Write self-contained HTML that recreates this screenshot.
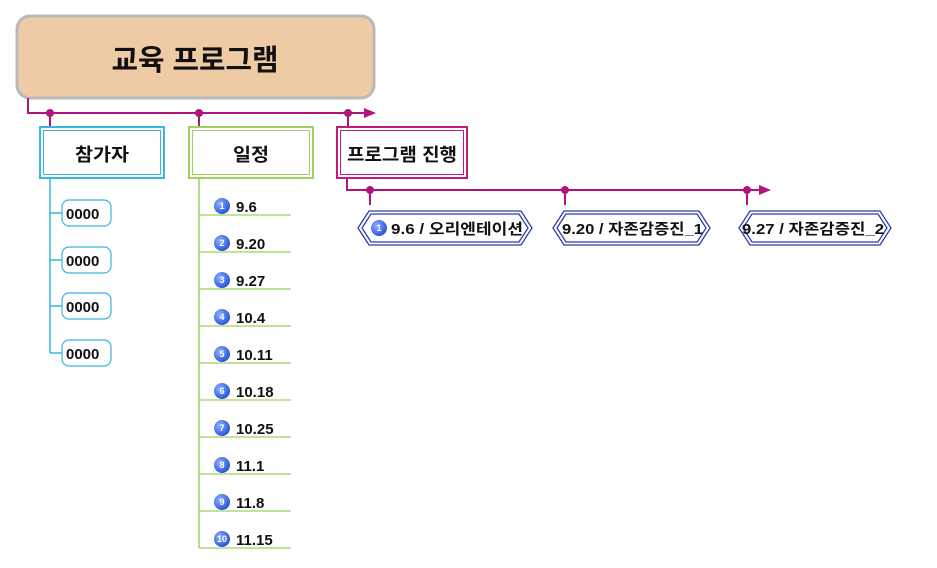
<!DOCTYPE html>
<html><head><meta charset="utf-8"><style>
body{margin:0;background:#fff;width:937px;height:563px;overflow:hidden}
svg text{font-family:"Liberation Sans","Noto Sans CJK KR",sans-serif;font-weight:bold;fill:#111}
</style></head><body>
<svg width="937" height="563" xmlns="http://www.w3.org/2000/svg">
<defs><radialGradient id="g" cx="35%" cy="35%" r="70%"><stop offset="0" stop-color="#8fb0ff"/><stop offset="1" stop-color="#2450d8"/></radialGradient></defs>
<rect x="17" y="16" width="357" height="82" rx="13" fill="#eecaa5" stroke="#b9b9b9" stroke-width="3"/>
<text x="195" y="70" font-size="29" text-anchor="middle" textLength="167" lengthAdjust="spacingAndGlyphs">교육 프로그램</text>
<g stroke="#b0157c" stroke-width="2" fill="none">
<path d="M28 98V113H368"/><path d="M50 113V127M199 113V127M348 113V127"/>
<path d="M347 178V190H763"/><path d="M370 190V205M565 190V205M747 190V205"/>
</g>
<g fill="#b0157c"><path d="M364 108L376 113L364 118Z"/><path d="M759 185L771 190L759 195Z"/>
<circle cx="50" cy="113" r="4"/><circle cx="199" cy="113" r="4"/><circle cx="348" cy="113" r="4"/>
<circle cx="370" cy="190" r="4"/><circle cx="565" cy="190" r="4"/><circle cx="747" cy="190" r="4"/></g>
<rect x="40" y="127" width="124" height="51" fill="#fff" stroke="#3bb5e0" stroke-width="2"/>
<rect x="43.5" y="130.5" width="117" height="44" fill="none" stroke="#3bb5e0" stroke-width="1"/>
<text x="102" y="161" font-size="18" text-anchor="middle" textLength="54" lengthAdjust="spacingAndGlyphs">참가자</text>
<rect x="189" y="127" width="124" height="51" fill="#fff" stroke="#9fd060" stroke-width="2"/>
<rect x="192.5" y="130.5" width="117" height="44" fill="none" stroke="#9fd060" stroke-width="1"/>
<text x="251" y="161" font-size="18" text-anchor="middle" textLength="36" lengthAdjust="spacingAndGlyphs">일정</text>
<rect x="337" y="127" width="130" height="51" fill="#fff" stroke="#c0197f" stroke-width="2"/>
<rect x="340.5" y="130.5" width="123" height="44" fill="none" stroke="#c0197f" stroke-width="1"/>
<text x="402" y="161" font-size="18" text-anchor="middle" textLength="110" lengthAdjust="spacingAndGlyphs">프로그램 진행</text>
<g stroke="#3bb5e0" stroke-width="1.5" fill="none"><path d="M50 178V353M50 213H62M50 260H62M50 306H62M50 353H62"/></g>
<g fill="#fff" stroke="#3bb5e0" stroke-width="1.2">
<rect x="62" y="200" width="49" height="26" rx="7"/><rect x="62" y="247" width="49" height="26" rx="7"/>
<rect x="62" y="293" width="49" height="26" rx="7"/><rect x="62" y="340" width="49" height="26" rx="7"/></g>
<g font-size="15"><text x="66" y="219">0000</text><text x="66" y="266">0000</text><text x="66" y="312">0000</text><text x="66" y="359">0000</text></g>
<path d="M199 178V548" stroke="#9fd060" stroke-width="1.5"/>
<g stroke="#9fd060" stroke-width="1.2">
<path d="M199 215H291M199 252H291M199 289H291M199 326H291M199 363H291M199 400H291M199 437H291M199 474H291M199 511H291M199 548H291"/></g>
<g fill="url(#g)"><circle cx="222" cy="206" r="8"/><circle cx="222" cy="243" r="8"/><circle cx="222" cy="280" r="8"/><circle cx="222" cy="317" r="8"/><circle cx="222" cy="354" r="8"/><circle cx="222" cy="391" r="8"/><circle cx="222" cy="428" r="8"/><circle cx="222" cy="465" r="8"/><circle cx="222" cy="502" r="8"/><circle cx="222" cy="539" r="8"/></g>
<g font-size="9" text-anchor="middle"><text x="222" y="209" style="fill:#fff">1</text><text x="222" y="246" style="fill:#fff">2</text><text x="222" y="283" style="fill:#fff">3</text><text x="222" y="320" style="fill:#fff">4</text><text x="222" y="357" style="fill:#fff">5</text><text x="222" y="394" style="fill:#fff">6</text><text x="222" y="431" style="fill:#fff">7</text><text x="222" y="468" style="fill:#fff">8</text><text x="222" y="505" style="fill:#fff">9</text><text x="222" y="542" style="fill:#fff">10</text></g>
<g font-size="15"><text x="236" y="212">9.6</text><text x="236" y="249">9.20</text><text x="236" y="286">9.27</text><text x="236" y="323">10.4</text><text x="236" y="360">10.11</text><text x="236" y="397">10.18</text><text x="236" y="434">10.25</text><text x="236" y="471">11.1</text><text x="236" y="508">11.8</text><text x="236" y="545">11.15</text></g>
<g fill="#fff" stroke="#2b3fa8" stroke-width="1.3">
<path d="M358 228L369 211H521L532 228L521 245H369Z"/><path d="M362 228L371 214H519L528 228L519 242H371Z" fill="none"/>
<path d="M553 228L564 211H699L710 228L699 245H564Z"/><path d="M557 228L566 214H697L706 228L697 242H566Z" fill="none"/>
<path d="M739 228L750 211H880L891 228L880 245H750Z"/><path d="M743 228L752 214H878L887 228L878 242H752Z" fill="none"/>
</g>
<circle cx="379" cy="228" r="8" fill="url(#g)"/><text x="379" y="231" font-size="9" text-anchor="middle" style="fill:#fff">1</text>
<g font-size="15"><text x="391" y="234" textLength="132" lengthAdjust="spacingAndGlyphs">9.6 / 오리엔테이션</text><text x="562" y="234" textLength="141" lengthAdjust="spacingAndGlyphs">9.20 / 자존감증진_1</text><text x="742" y="234" textLength="142" lengthAdjust="spacingAndGlyphs">9.27 / 자존감증진_2</text></g>
</svg>
</body></html>
